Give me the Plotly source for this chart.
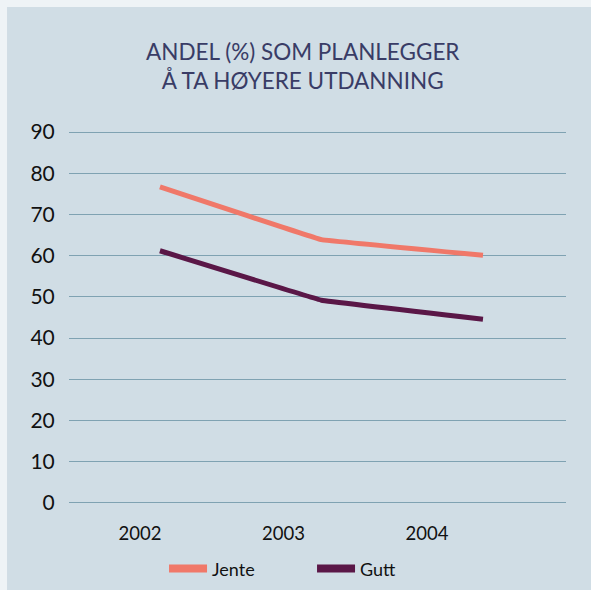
import plotly.graph_objects as go

years = [2002, 2003, 2004]
tick_labels = ["2002", "2003", "2004"]
jente = [76.7, 63.9, 60.1]
gutt = [61.2, 49.2, 44.6]
y_ticks = [0, 10, 20, 30, 40, 50, 60, 70, 80, 90]
title_text = "ANDEL (%) SOM PLANLEGGER<br>Å TA HØYERE UTDANNING"

JENTE_C = "#f07869"
GUTT_C = "#5a1747"
PANEL = "#d0dde5"
OUTER = "#eef3f6"
GRID = "#7fa2b2"
FONT = "Lato"

fig = go.Figure()
fig.add_trace(go.Scatter(x=years, y=jente, mode="lines", name="Jente",
                         line=dict(color=JENTE_C, width=5, shape="spline", smoothing=0.08),
                         xaxis="x2", showlegend=False))
fig.add_trace(go.Scatter(x=years, y=gutt, mode="lines", name="Gutt",
                         line=dict(color=GUTT_C, width=5, shape="spline", smoothing=0.08),
                         xaxis="x2", showlegend=False))
# legend entries
fig.add_trace(go.Scatter(x=[None], y=[None], mode="lines", name="Jente",
                         line=dict(color=JENTE_C, width=8)))
fig.add_trace(go.Scatter(x=[None], y=[None], mode="lines", name="Gutt",
                         line=dict(color=GUTT_C, width=8)))

fig.update_layout(
    width=591, height=590,
    margin=dict(l=69, r=25, t=128, b=83, autoexpand=False),
    paper_bgcolor=OUTER,
    plot_bgcolor="rgba(0,0,0,0)",
    font=dict(family=FONT, color="#111111"),
    shapes=[dict(type="rect", xref="paper", yref="paper",
                 x0=-0.1247, x1=1.06, y0=-0.23, y1=1.319,
                 fillcolor=PANEL, line=dict(width=0), layer="below")],
    xaxis=dict(range=[2001.505, 2004.969], tickvals=years, ticktext=tick_labels,
               showgrid=False, zeroline=False, showline=False,
               ticks="outside", ticklen=10, tickcolor="rgba(0,0,0,0)",
               tickfont=dict(size=18.5, family=FONT, color="#111111")),
    xaxis2=dict(range=[2001.437, 2004.514], overlaying="x", visible=False),
    yaxis=dict(range=[-1, 91], tickvals=y_ticks, showgrid=True, gridcolor=GRID,
               gridwidth=1.3, zeroline=False, showline=False,
               ticks="outside", ticklen=9, tickcolor="rgba(0,0,0,0)",
               tickfont=dict(size=21, family=FONT, color="#111111")),
    legend=dict(orientation="h", x=0.489, xanchor="center", y=-0.163, yanchor="middle",
                itemwidth=38, entrywidth=95, bgcolor="rgba(0,0,0,0)",
                font=dict(size=18, family=FONT, color="#111111")),
    annotations=[dict(text=title_text, xref="paper", yref="paper",
                      x=(302 - 69) / 497, y=(507 - 66) / 379, xanchor="center", yanchor="middle",
                      showarrow=False, align="center",
                      font=dict(size=22.5, family=FONT, color="#393c66"))],
)

fig.write_html("out.html", config={"displayModeBar": False},
               post_script="document.body.style.margin='0';document.body.style.overflow='hidden';")
